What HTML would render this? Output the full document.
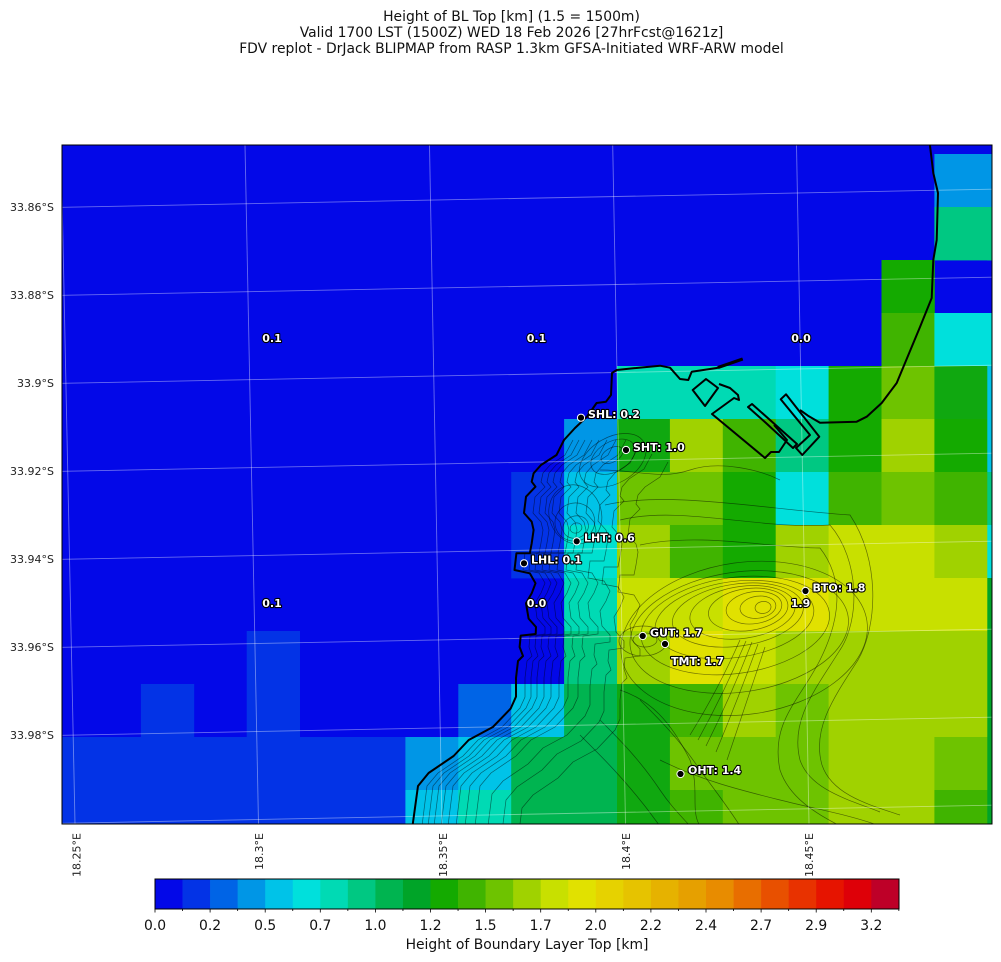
<!DOCTYPE html>
<html><head><meta charset="utf-8"><style>
html,body{margin:0;padding:0;background:#fff;}
svg{display:block;}
text{font-family:"DejaVu Sans","Liberation Sans",sans-serif;}
.lab{font-size:11px;font-weight:bold;fill:#fff;stroke:#000;stroke-width:2.2px;paint-order:stroke;stroke-linejoin:round;}
.tk{font-size:11px;fill:#222;}
.cb{font-size:13.9px;fill:#111;}
</style></head><body>
<svg width="1001" height="962" viewBox="0 0 1001 962" xmlns="http://www.w3.org/2000/svg">
<rect width="1001" height="962" fill="#fff"/>
<g font-size="13.9" fill="#111" text-anchor="middle">
<text x="511.5" y="21">Height of BL Top [km] (1.5 = 1500m)</text>
<text x="511.5" y="37">Valid 1700 LST (1500Z) WED 18 Feb 2026 [27hrFcst@1621z]</text>
<text x="511.5" y="53">FDV replot - DrJack BLIPMAP from RASP 1.3km GFSA-Initiated WRF-ARW model</text>
</g>
<defs>
<clipPath id="mc"><rect x="62" y="145" width="930" height="679"/></clipPath>
<path id="cw" d="M564,440 L556,455 L541,465 L534,473 L532,482 L536,487 L526,497 L524,513 L532,522 L534,530 L532,543 L530,553 L516,553 L514,570 L530,573 L536,583 L532,593 L526,603 L528,618 L536,627 L536,634 L521,636 L520,647 L523,656 L518,661 L516,678 L516,697 L511,708 L493,727 L469,740 L454,756 L429,773 L418,786 L413,826"/>
</defs>
<g clip-path="url(#mc)">
<rect x="62" y="145" width="930" height="679" fill="#0308e8"/>
<g>
<rect x="934.4" y="154" width="58" height="53.4" fill="#0096e6"/>
<rect x="934.4" y="207" width="58" height="53.4" fill="#00c882"/>
<rect x="881.5" y="260" width="53.3" height="53.4" fill="#14aa00"/>
<rect x="881.5" y="313" width="53.3" height="53.4" fill="#40b400"/>
<rect x="934.4" y="313" width="58" height="53.4" fill="#00e0dc"/>
<rect x="617" y="366" width="159.1" height="53.4" fill="#00dab4"/>
<rect x="775.7" y="366" width="53.3" height="53.4" fill="#00e0dc"/>
<rect x="828.6" y="366" width="53.3" height="53.4" fill="#14aa00"/>
<rect x="881.5" y="366" width="53.3" height="53.4" fill="#6ec300"/>
<rect x="934.4" y="366" width="53.3" height="53.4" fill="#10a810"/>
<rect x="987.3" y="366" width="5" height="53.4" fill="#00c3e8"/>
<rect x="564.1" y="419" width="53.3" height="53.4" fill="#0096e6"/>
<rect x="617" y="419" width="53.3" height="53.4" fill="#10a810"/>
<rect x="669.9" y="419" width="53.3" height="53.4" fill="#a0d200"/>
<rect x="722.8" y="419" width="53.3" height="53.4" fill="#40b400"/>
<rect x="775.7" y="419" width="53.3" height="53.4" fill="#00c882"/>
<rect x="828.6" y="419" width="53.3" height="53.4" fill="#14aa00"/>
<rect x="881.5" y="419" width="53.3" height="53.4" fill="#a0d200"/>
<rect x="934.4" y="419" width="53.3" height="53.4" fill="#14aa00"/>
<rect x="987.3" y="419" width="5" height="53.4" fill="#00c3e8"/>
<rect x="511.2" y="472" width="53.3" height="53.4" fill="#0333e6"/>
<rect x="564.1" y="472" width="53.3" height="53.4" fill="#00c3e8"/>
<rect x="617" y="472" width="106.2" height="53.4" fill="#6ec300"/>
<rect x="722.8" y="472" width="53.3" height="53.4" fill="#14aa00"/>
<rect x="775.7" y="472" width="53.3" height="53.4" fill="#00e0dc"/>
<rect x="828.6" y="472" width="53.3" height="53.4" fill="#40b400"/>
<rect x="881.5" y="472" width="53.3" height="53.4" fill="#6ec300"/>
<rect x="934.4" y="472" width="53.3" height="53.4" fill="#40b400"/>
<rect x="987.3" y="472" width="5" height="53.4" fill="#00c882"/>
<rect x="511.2" y="525" width="53.3" height="53.4" fill="#0333e6"/>
<rect x="564.1" y="525" width="53.3" height="53.4" fill="#00e0d0"/>
<rect x="617" y="525" width="53.3" height="53.4" fill="#a0d200"/>
<rect x="669.9" y="525" width="53.3" height="53.4" fill="#40b400"/>
<rect x="722.8" y="525" width="53.3" height="53.4" fill="#14aa00"/>
<rect x="775.7" y="525" width="53.3" height="53.4" fill="#a0d200"/>
<rect x="828.6" y="525" width="106.2" height="53.4" fill="#c8e000"/>
<rect x="934.4" y="525" width="53.3" height="53.4" fill="#a0d200"/>
<rect x="987.3" y="525" width="5" height="53.4" fill="#00e0dc"/>
<rect x="564.1" y="578" width="53.3" height="53.4" fill="#00dab4"/>
<rect x="617" y="578" width="106.2" height="53.4" fill="#c8e000"/>
<rect x="722.8" y="578" width="106.2" height="53.4" fill="#e1e100"/>
<rect x="828.6" y="578" width="159.1" height="53.4" fill="#c8e000"/>
<rect x="987.3" y="578" width="5" height="53.4" fill="#00a428"/>
<rect x="246.7" y="631" width="53.3" height="106.4" fill="#0333e6"/>
<rect x="564.1" y="631" width="53.3" height="53.4" fill="#00c882"/>
<rect x="617" y="631" width="53.3" height="53.4" fill="#a0d200"/>
<rect x="669.9" y="631" width="53.3" height="53.4" fill="#e1e100"/>
<rect x="722.8" y="631" width="53.3" height="53.4" fill="#c8e000"/>
<rect x="775.7" y="631" width="212" height="53.4" fill="#a0d200"/>
<rect x="987.3" y="631" width="5" height="53.4" fill="#00a428"/>
<rect x="140.9" y="684" width="53.3" height="53.4" fill="#0333e6"/>
<rect x="458.3" y="684" width="53.3" height="53.4" fill="#0064e6"/>
<rect x="511.2" y="684" width="53.3" height="53.4" fill="#00c3e8"/>
<rect x="564.1" y="684" width="53.3" height="53.4" fill="#00b450"/>
<rect x="617" y="684" width="53.3" height="53.4" fill="#10a810"/>
<rect x="669.9" y="684" width="53.3" height="53.4" fill="#40b400"/>
<rect x="722.8" y="684" width="53.3" height="53.4" fill="#a0d200"/>
<rect x="775.7" y="684" width="53.3" height="53.4" fill="#6ec300"/>
<rect x="828.6" y="684" width="159.1" height="53.4" fill="#a0d200"/>
<rect x="987.3" y="684" width="5" height="53.4" fill="#00a428"/>
<rect x="62" y="737" width="343.8" height="53.4" fill="#0333e6"/>
<rect x="405.4" y="737" width="53.3" height="53.4" fill="#0096e6"/>
<rect x="458.3" y="737" width="53.3" height="53.4" fill="#00c3e8"/>
<rect x="511.2" y="737" width="106.2" height="53.4" fill="#00b450"/>
<rect x="617" y="737" width="53.3" height="53.4" fill="#10a810"/>
<rect x="669.9" y="737" width="159.1" height="53.4" fill="#6ec300"/>
<rect x="828.6" y="737" width="106.2" height="53.4" fill="#a0d200"/>
<rect x="934.4" y="737" width="53.3" height="53.4" fill="#6ec300"/>
<rect x="987.3" y="737" width="5" height="53.4" fill="#00a428"/>
<rect x="62" y="790" width="343.8" height="34" fill="#0333e6"/>
<rect x="405.4" y="790" width="53.3" height="34" fill="#00c3e8"/>
<rect x="458.3" y="790" width="53.3" height="34" fill="#00dab4"/>
<rect x="511.2" y="790" width="106.2" height="34" fill="#00b450"/>
<rect x="617" y="790" width="53.3" height="34" fill="#10a810"/>
<rect x="669.9" y="790" width="53.3" height="34" fill="#40b400"/>
<rect x="722.8" y="790" width="106.2" height="34" fill="#6ec300"/>
<rect x="828.6" y="790" width="106.2" height="34" fill="#a0d200"/>
<rect x="934.4" y="790" width="53.3" height="34" fill="#40b400"/>
<rect x="987.3" y="790" width="5" height="34" fill="#00a428"/>
<rect x="987.3" y="154" width="5" height="53.4" fill="#0096e6"/>
<rect x="987.3" y="207" width="5" height="53.4" fill="#00c882"/>
</g>
<g fill="none" stroke="#000" stroke-opacity="0.5" stroke-width="0.7">
<use href="#cw" x="9"/>
<use href="#cw" x="15"/>
<use href="#cw" x="21"/>
<use href="#cw" x="28"/>
<use href="#cw" x="35"/>
<use href="#cw" x="43"/>
<use href="#cw" x="52"/>
<use href="#cw" x="62"/>
<use href="#cw" x="74" y="8"/>
<use href="#cw" x="88" y="14"/>
<use href="#cw" x="104" y="22"/>
<g transform="rotate(-20 576 528)">
<ellipse cx="576" cy="528" rx="6" ry="5"/>
<ellipse cx="576" cy="527" rx="13" ry="11"/>
<ellipse cx="577" cy="522" rx="20" ry="19"/>
<ellipse cx="580" cy="515" rx="26" ry="30"/>
</g>
<g transform="rotate(-30 612 455)">
<ellipse cx="612" cy="455" rx="12" ry="7"/>
<ellipse cx="612" cy="457" rx="24" ry="15"/>
<ellipse cx="610" cy="460" rx="36" ry="23"/>
</g>
<g transform="rotate(-8 752 608)">
<ellipse cx="763" cy="609" rx="8" ry="6"/>
<ellipse cx="758" cy="608" rx="18" ry="11"/>
<ellipse cx="754" cy="608" rx="28" ry="16"/>
<ellipse cx="748" cy="609" rx="40" ry="21"/>
<ellipse cx="742" cy="611" rx="53" ry="26"/>
<ellipse cx="737" cy="613" rx="66" ry="31"/>
<ellipse cx="733" cy="617" rx="80" ry="38"/>
<ellipse cx="733" cy="623" rx="95" ry="48"/>
<ellipse cx="736" cy="630" rx="110" ry="60"/>
<ellipse cx="740" cy="637" rx="124" ry="76"/>
</g>
<ellipse cx="645" cy="640" rx="12" ry="7"/>
<ellipse cx="643" cy="641" rx="24" ry="15"/>
<path d="M740,640 Q718,690 690,735"/>
<path d="M746,641 Q724,693 698,740"/>
<path d="M752,642 Q731,696 706,746"/>
<path d="M758,644 Q738,699 716,752"/>
<path d="M765,647 Q746,703 727,760"/>
<path d="M620,520 C680,505 760,530 830,525 C860,560 860,620 840,650 C815,690 790,720 800,760 C810,790 850,800 880,812"/>
<path d="M605,505 C670,490 770,510 850,515 C880,560 878,625 858,660 C832,700 812,730 822,765 C832,795 870,805 900,815"/>
<path d="M640,545 C700,532 770,548 820,548 C845,580 840,620 820,660 C800,700 770,722 780,770 C790,800 820,815 840,826"/>
<path d="M600,470 C640,470 660,480 690,470 C720,460 760,470 780,480"/>
<path d="M620,690 C650,700 670,720 690,760 C700,790 690,810 700,826"/>
<path d="M640,700 C660,720 680,740 700,770 C715,790 730,810 740,826"/>
<path d="M600,720 C620,740 640,760 660,790 C670,805 680,815 690,826"/>
<path d="M580,735 C600,755 620,775 640,800 C650,812 655,820 660,826"/>
<path d="M660,760 C700,780 740,790 780,800 C820,810 850,815 880,826"/>
</g>
<g stroke="#fff" stroke-opacity="0.4" stroke-width="0.9" fill="none">
<line x1="62" y1="207.3" x2="992" y2="189.2"/>
<line x1="62" y1="295.3" x2="992" y2="277.2"/>
<line x1="62" y1="383.3" x2="992" y2="365.2"/>
<line x1="62" y1="471.3" x2="992" y2="453.2"/>
<line x1="62" y1="559.3" x2="992" y2="541.2"/>
<line x1="62" y1="647.3" x2="992" y2="629.2"/>
<line x1="62" y1="735.3" x2="992" y2="717.2"/>
<line x1="62" y1="823.3" x2="992" y2="805.2"/>
<line x1="61" y1="145" x2="75" y2="824"/>
<line x1="245" y1="145" x2="258.5" y2="824"/>
<line x1="429.5" y1="145" x2="442" y2="824"/>
<line x1="612.7" y1="145" x2="625.5" y2="824"/>
<line x1="796.5" y1="145" x2="809" y2="824"/>
</g>
<g fill="none" stroke="#000" stroke-width="2" stroke-linejoin="round">
<path d="M742.7,359 L716.7,368 L691.7,371.7 L688.3,380 L680,379 L670,367.7 L660,365.7 L633.3,368.3 L616.7,370 L612,373 L611,395 L606,401.7 L596.6,403 L587,416.7 L575,428 L564,440 L556.5,455 L541,465 L533.6,473.3 L531.7,481.7 L535.5,486.7 L526,496.7 L524,513 L531.7,521.7 L533.6,530 L531.7,543.3 L529.8,553.3 L516.4,553.3 L514.5,570 L529.8,573.3 L535.5,583.3 L531.7,593.3 L526,603.3 L528.6,618.6 L536,627 L535.7,634 L520.7,635.6 L519.6,647 L523,656 L518,661 L516,678 L516,696.6 L510.7,708.5 L492.9,727 L468.7,740 L453.6,756 L428.6,773 L418,786 L412.5,826"/>
<path d="M742.7,359 L718,367.5" stroke-width="3.2"/>
<path d="M929.3,140 L933.3,173 L938,193 L936.7,240 L933.3,260 L931.7,298 L920,327 L896.7,383 L881.7,403 L866.7,416.7 L856.7,421.7 L820,422.7 L808,415.7 L800,410"/>
<path d="M692.7,390 L706,379 L718,388 L705,406 Z"/>
<path d="M719,384 L730,388 L738,395 L739,400 L734,398 L712,414 L765,458 L771,452 L779,452 L787,440 L774,425"/>
<path d="M748,407 L752,404 L797,444 L793,448 L766,423 Z"/>
<path d="M780.7,399.3 L786,394.3 L819.3,436.7 L802.3,455 L796,448 L810,435 Z"/>
</g>
<g class="lab" text-anchor="middle">
<text x="272" y="342">0.1</text>
<text x="536.5" y="342">0.1</text>
<text x="801" y="342">0.0</text>
<text x="272" y="607">0.1</text>
<text x="536.5" y="607">0.0</text>
<text x="800.5" y="607">1.9</text>
</g>
<g fill="#000" stroke="#fff" stroke-width="1">
<circle cx="581" cy="417.7" r="3.6"/>
<circle cx="626" cy="450" r="3.6"/>
<circle cx="576.7" cy="541.3" r="3.6"/>
<circle cx="524" cy="563.3" r="3.6"/>
<circle cx="805.5" cy="591" r="3.6"/>
<circle cx="642.7" cy="636" r="3.6"/>
<circle cx="665" cy="644" r="3.6"/>
<circle cx="680.5" cy="774" r="3.6"/>
</g>
<g class="lab">
<text x="588" y="418">SHL: 0.2</text>
<text x="633" y="451">SHT: 1.0</text>
<text x="584" y="541.5">LHT: 0.6</text>
<text x="531" y="563.5">LHL: 0.1</text>
<text x="812.5" y="591.5">BTO: 1.8</text>
<text x="650" y="636.5">GUT: 1.7</text>
<text x="671" y="665">TMT: 1.7</text>
<text x="688" y="774">OHT: 1.4</text>
</g>
</g>
<rect x="62" y="145" width="930" height="679" fill="none" stroke="#000" stroke-width="1"/>
<g class="tk" text-anchor="end">
<text x="54" y="211">33.86°S</text>
<text x="54" y="299">33.88°S</text>
<text x="54" y="387">33.9°S</text>
<text x="54" y="475">33.92°S</text>
<text x="54" y="563">33.94°S</text>
<text x="54" y="651">33.96°S</text>
<text x="54" y="739">33.98°S</text>
</g>
<g class="tk" text-anchor="end">
<text transform="translate(80.5,833) rotate(-90)">18.25°E</text>
<text transform="translate(263,833) rotate(-90)">18.3°E</text>
<text transform="translate(447,833) rotate(-90)">18.35°E</text>
<text transform="translate(630,833) rotate(-90)">18.4°E</text>
<text transform="translate(813,833) rotate(-90)">18.45°E</text>
</g>
<g>
<rect x="155" y="879" width="27.9" height="30" fill="#0308e8"/>
<rect x="182.55" y="879" width="27.9" height="30" fill="#0333e6"/>
<rect x="210.1" y="879" width="27.9" height="30" fill="#0064e6"/>
<rect x="237.65" y="879" width="27.9" height="30" fill="#0096e6"/>
<rect x="265.2" y="879" width="27.9" height="30" fill="#00c3e8"/>
<rect x="292.75" y="879" width="27.9" height="30" fill="#00e0dc"/>
<rect x="320.3" y="879" width="27.9" height="30" fill="#00dab4"/>
<rect x="347.85" y="879" width="27.9" height="30" fill="#00c882"/>
<rect x="375.4" y="879" width="27.9" height="30" fill="#00b450"/>
<rect x="402.95" y="879" width="27.9" height="30" fill="#00a428"/>
<rect x="430.5" y="879" width="27.9" height="30" fill="#14aa00"/>
<rect x="458.05" y="879" width="27.9" height="30" fill="#40b400"/>
<rect x="485.6" y="879" width="27.9" height="30" fill="#6ec300"/>
<rect x="513.15" y="879" width="27.9" height="30" fill="#a0d200"/>
<rect x="540.7" y="879" width="27.9" height="30" fill="#c8e000"/>
<rect x="568.25" y="879" width="27.9" height="30" fill="#e1e100"/>
<rect x="595.8" y="879" width="27.9" height="30" fill="#e6d200"/>
<rect x="623.35" y="879" width="27.9" height="30" fill="#e6c300"/>
<rect x="650.9" y="879" width="27.9" height="30" fill="#e6b200"/>
<rect x="678.45" y="879" width="27.9" height="30" fill="#e6a000"/>
<rect x="706" y="879" width="27.9" height="30" fill="#e88c00"/>
<rect x="733.55" y="879" width="27.9" height="30" fill="#e86e00"/>
<rect x="761.1" y="879" width="27.9" height="30" fill="#e85000"/>
<rect x="788.65" y="879" width="27.9" height="30" fill="#e83200"/>
<rect x="816.2" y="879" width="27.9" height="30" fill="#e61400"/>
<rect x="843.75" y="879" width="27.9" height="30" fill="#de0008"/>
<rect x="871.3" y="879" width="27.7" height="30" fill="#be0028"/>
<rect x="155" y="879" width="744" height="30" fill="none" stroke="#000" stroke-width="1"/>
</g>
<g stroke="#000" stroke-width="0.8">
<line x1="155" y1="909" x2="155" y2="912.5"/><line x1="182.55" y1="909" x2="182.55" y2="911"/>
<line x1="210.1" y1="909" x2="210.1" y2="912.5"/><line x1="237.65" y1="909" x2="237.65" y2="911"/>
<line x1="265.2" y1="909" x2="265.2" y2="912.5"/><line x1="292.75" y1="909" x2="292.75" y2="911"/>
<line x1="320.3" y1="909" x2="320.3" y2="912.5"/><line x1="347.85" y1="909" x2="347.85" y2="911"/>
<line x1="375.4" y1="909" x2="375.4" y2="912.5"/><line x1="402.95" y1="909" x2="402.95" y2="911"/>
<line x1="430.5" y1="909" x2="430.5" y2="912.5"/><line x1="458.05" y1="909" x2="458.05" y2="911"/>
<line x1="485.6" y1="909" x2="485.6" y2="912.5"/><line x1="513.15" y1="909" x2="513.15" y2="911"/>
<line x1="540.7" y1="909" x2="540.7" y2="912.5"/><line x1="568.25" y1="909" x2="568.25" y2="911"/>
<line x1="595.8" y1="909" x2="595.8" y2="912.5"/><line x1="623.35" y1="909" x2="623.35" y2="911"/>
<line x1="650.9" y1="909" x2="650.9" y2="912.5"/><line x1="678.45" y1="909" x2="678.45" y2="911"/>
<line x1="706" y1="909" x2="706" y2="912.5"/><line x1="733.55" y1="909" x2="733.55" y2="911"/>
<line x1="761.1" y1="909" x2="761.1" y2="912.5"/><line x1="788.65" y1="909" x2="788.65" y2="911"/>
<line x1="816.2" y1="909" x2="816.2" y2="912.5"/><line x1="843.75" y1="909" x2="843.75" y2="911"/>
<line x1="871.3" y1="909" x2="871.3" y2="912.5"/><line x1="898.85" y1="909" x2="898.85" y2="911"/>
</g>
<g class="cb" text-anchor="middle">
<text x="155" y="930">0.0</text>
<text x="210.1" y="930">0.2</text>
<text x="265.2" y="930">0.5</text>
<text x="320.3" y="930">0.7</text>
<text x="375.4" y="930">1.0</text>
<text x="430.5" y="930">1.2</text>
<text x="485.6" y="930">1.5</text>
<text x="540.7" y="930">1.7</text>
<text x="595.8" y="930">2.0</text>
<text x="650.9" y="930">2.2</text>
<text x="706" y="930">2.4</text>
<text x="761.1" y="930">2.7</text>
<text x="816.2" y="930">2.9</text>
<text x="871.3" y="930">3.2</text>
<text x="527" y="949">Height of Boundary Layer Top [km]</text>
</g>
</svg>
</body></html>
